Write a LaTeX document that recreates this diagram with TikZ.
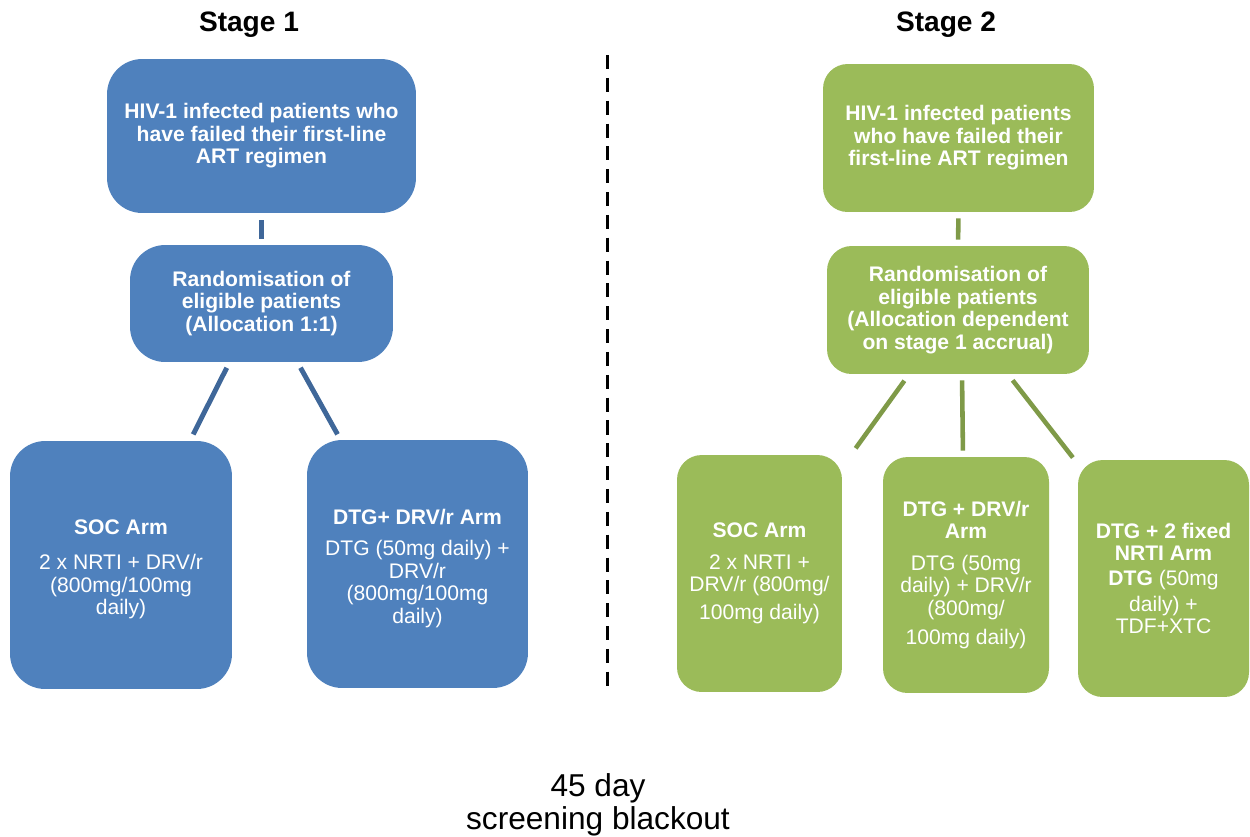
\documentclass[tikz,border=0pt]{standalone}
\usepackage{fontspec}
\setmainfont{Liberation Sans}
\usepackage{tikz}
\usetikzlibrary{calc, positioning}

\definecolor{armblue}{HTML}{4F81BD}
\definecolor{lineblue}{HTML}{3F6799}
\definecolor{armgreen}{HTML}{9BBB59}
\definecolor{linegreen}{HTML}{7F9A48}

\tikzset{
  box/.style={rounded corners=18pt, align=center, text=white, inner sep=2pt,
    font=\fontsize{12}{12.8}\selectfont},
  bluebox/.style={box, fill=armblue, rounded corners=20pt},
  greenbox/.style={box, fill=armgreen, rounded corners=14pt},
  bluelink/.style={draw=lineblue, line width=2.8pt},
  greenlink/.style={draw=linegreen, line width=2.6pt},
  stagetitle/.style={font=\fontsize{16}{18}\selectfont\bfseries}
}

\begin{document}
\begin{tikzpicture}[x=0.02cm, y=-0.02cm]
  \useasboundingbox (0,0) rectangle (1250,836);

  % stage 1
  \node (title1) at (249,25) [stagetitle] {Stage 1};
  \node (top1) at (261.5,136) [bluebox, minimum width=6.18cm, minimum height=3.08cm]
    {\bfseries HIV-1 infected patients who\\ \bfseries have failed their first-line\\ \bfseries ART regimen};
  \node (rand1) at (261.5,303.5) [bluebox, minimum width=5.26cm, minimum height=2.34cm]
    {\bfseries Randomisation of\\ \bfseries eligible patients\\ \bfseries (Allocation 1:1)};
  \node (soc1) at (121,565) [bluebox, minimum width=4.44cm, minimum height=4.96cm]
    {\rule{0pt}{13.5pt}\bfseries SOC Arm\\[7pt] 2 x NRTI + DRV/r\\ (800mg/100mg\\ daily)};
  \node (dtg1) at (417.5,564) [bluebox, minimum width=4.42cm, minimum height=4.96cm]
    {\rule{0pt}{13.5pt}\bfseries DTG+ DRV/r Arm\\[5pt] DTG (50mg daily) +\\ DRV/r\\ (800mg/100mg\\ daily)};

  \draw [bluelink, shorten <=4pt, shorten >=3pt] (top1.south) -- (rand1.north);
  \draw [bluelink, shorten <=3.5pt, shorten >=4pt] ($(rand1.south)+(-32,0)$) -- ($(soc1.north)+(69,0)$);
  \draw [bluelink, shorten <=3.5pt, shorten >=3.5pt] ($(rand1.south)+(36,0)$) -- ($(dtg1.north)+(-77,0)$);

  % divider
  \draw [line width=1.7pt, dash pattern=on 8pt off 5pt] (607,55) -- (607,690);

  % stage 2
  \node (title2) at (946,25) [stagetitle] {Stage 2};
  \node (top2) at (958.5,138) [greenbox, minimum width=5.42cm, minimum height=2.96cm]
    {\bfseries HIV-1 infected patients\\ \bfseries who have failed their\\ \bfseries first-line ART regimen};
  \node (rand2) at (958,310) [greenbox, minimum width=5.24cm, minimum height=2.56cm]
    {\bfseries Randomisation of\\ \bfseries eligible patients\\ \bfseries (Allocation dependent\\ \bfseries on stage 1 accrual)};
  \node (soc2) at (759.5,573.5) [greenbox, minimum width=3.30cm, minimum height=4.74cm]
    {\bfseries SOC Arm\\[5pt] 2 x NRTI +\\ DRV/r (800mg/\\[3pt] 100mg daily)};
  \node (dtg2) at (966,575) [greenbox, minimum width=3.32cm, minimum height=4.72cm]
    {\bfseries DTG + DRV/r\\ \bfseries Arm\\[5pt] DTG (50mg\\ daily) + DRV/r\\ (800mg/\\[4pt] 100mg daily)};
  \node (nrti2) at (1163.5,578.5) [greenbox, minimum width=3.42cm, minimum height=4.74cm]
    {\bfseries DTG + 2 fixed\\ \bfseries NRTI Arm\\[1pt] \textbf{DTG} (50mg\\[2pt] daily) +\\ TDF+XTC};

  \draw [greenlink, shorten <=3.4pt, shorten >=3.4pt] (top2.south) -- (rand2.north);
  \draw [greenlink, shorten <=4.5pt, shorten >=4.5pt] ($(rand2.south)+(-49,0)$) -- ($(soc2.north)+(91.5,0)$);
  \draw [greenlink, shorten <=3.4pt, shorten >=3.4pt] ($(rand2.south)+(4,0)$) -- ($(dtg2.north)+(-3,0)$);
  \draw [greenlink, shorten <=4.3pt, shorten >=1.5pt] ($(rand2.south)+(50,0)$) -- ($(nrti2.north)+(-89,0)$);

  % footnote
  \node (blackout) at (598,805) [align=center, font=\fontsize{18}{18.8}\selectfont]
    {45 day\\ screening blackout};
\end{tikzpicture}
\end{document}
